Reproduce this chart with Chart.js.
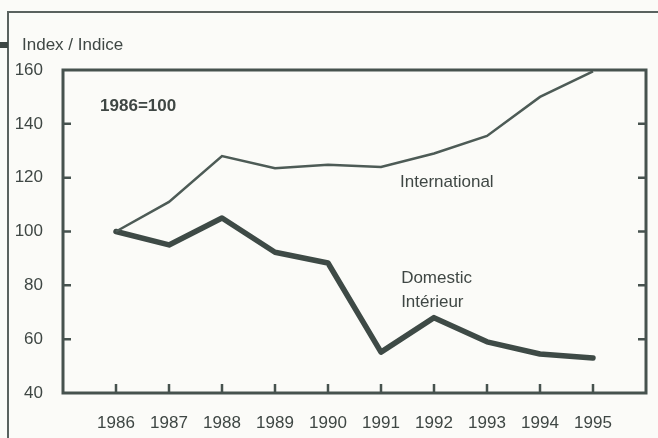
<!DOCTYPE html>
<html>
<head>
<meta charset="utf-8">
<script src="https://cdn.jsdelivr.net/npm/chart.js@4.4.1/dist/chart.umd.min.js"></script>
<style>
  html, body { margin: 0; padding: 0; background: #fbfbf8; }
  #wrap { width: 658px; height: 438px; }
</style>
</head>
<body>
<div id="wrap"><canvas id="myChart" width="658" height="438"></canvas></div>
<script>
  "use strict";
  // data (1986=100)
  const years = [1986, 1987, 1988, 1989, 1990, 1991, 1992, 1993, 1994, 1995];
  const international = [100, 111, 128, 123.5, 124.8, 124, 129, 135.5, 150, 159.5];
  const domestic = [100, 95, 105, 92.3, 88.3, 55.2, 68, 59, 54.5, 53];
  const yTicks = [40, 60, 80, 100, 120, 140, 160];

  // text placed inside the plot, in data units
  const notes = [
    { text: "1986=100", x: 1985.7, y: 146.6, bold: true },
    { text: "International", x: 1991.36, y: 118.4 },
    { text: "Domestic", x: 1991.38, y: 82.7 },
    { text: "Intérieur", x: 1991.38, y: 73.6 }
  ];

  const ink = "#46524e";
  const font = "'Liberation Sans', Arial, sans-serif";

  const framePlugin = {
    id: "frame",
    beforeDraw(chart) {
      const c = chart.ctx;
      c.save();
      c.fillStyle = "#fbfbf8";
      c.fillRect(0, 0, chart.width, chart.height);
      // outer page frame
      c.strokeStyle = "#5a625f";
      c.lineWidth = 2;
      c.beginPath();
      c.moveTo(8, 438);
      c.lineTo(8, 12);
      c.lineTo(658, 12);
      c.stroke();
      c.fillStyle = "#3e4643";
      c.fillRect(0, 42, 8, 6);
      c.restore();
    },
    afterDraw(chart) {
      const c = chart.ctx;
      const a = chart.chartArea;
      const xs = chart.scales.x;
      const ys = chart.scales.y;
      c.save();
      c.strokeStyle = ink;
      c.lineWidth = 3;
      c.strokeRect(a.left, a.top, a.right - a.left, a.bottom - a.top);
      c.lineWidth = 2.5;
      c.beginPath();
      yTicks.forEach(v => {
        if (v === 40 || v === 160) return;
        const py = ys.getPixelForValue(v);
        c.moveTo(a.left, py); c.lineTo(a.left + 8, py);
        c.moveTo(a.right, py); c.lineTo(a.right - 8, py);
      });
      years.forEach(yr => {
        const px = xs.getPixelForValue(yr);
        c.moveTo(px, a.bottom); c.lineTo(px, a.bottom - 9);
      });
      c.stroke();

      c.fillStyle = "#3f4744";
      c.textBaseline = "middle";
      c.textAlign = "left";
      c.font = "17px " + font;
      c.fillText("Index / Indice", 22, 45);
      notes.forEach(n => {
        c.font = (n.bold ? "bold " : "") + "17px " + font;
        c.fillText(n.text, xs.getPixelForValue(n.x), ys.getPixelForValue(n.y));
      });
      c.restore();
    }
  };

  const ctx = document.getElementById("myChart").getContext("2d");
  const chart = new Chart(ctx, {
    type: "line",
    data: {
      datasets: [
        {
          label: "International",
          data: years.map((yr, i) => ({ x: yr, y: international[i] })),
          borderColor: "#4d5b56",
          borderWidth: 2.5,
          pointRadius: 0,
          tension: 0
        },
        {
          label: "Domestic / Intérieur",
          data: years.map((yr, i) => ({ x: yr, y: domestic[i] })),
          borderColor: "#3e4a46",
          borderWidth: 5.5,
          pointRadius: 0,
          tension: 0,
          borderJoinStyle: "round",
          borderCapStyle: "round"
        }
      ]
    },
    options: {
      responsive: false,
      animation: false,
      layout: { padding: { top: 70, right: 11, left: 0, bottom: 0 } },
      plugins: {
        legend: { display: false },
        tooltip: { enabled: false }
      },
      scales: {
        x: {
          type: "linear",
          min: 1985,
          max: 1996,
          grid: { display: false },
          border: { display: false },
          afterFit(s) { s.height = 45; },
          ticks: {
            stepSize: 1,
            padding: 12,
            color: "#3f4744",
            font: { family: font, size: 17 },
            maxRotation: 0,
            callback: v => (v >= 1986 && v <= 1995 ? String(v) : "")
          }
        },
        y: {
          min: 40,
          max: 160,
          grid: { display: false },
          border: { display: false },
          afterFit(s) { s.width = 63; },
          ticks: {
            stepSize: 20,
            padding: 12,
            color: "#3f4744",
            font: { family: font, size: 17 }
          }
        }
      }
    },
    plugins: [framePlugin]
  });
</script>
</body>
</html>
